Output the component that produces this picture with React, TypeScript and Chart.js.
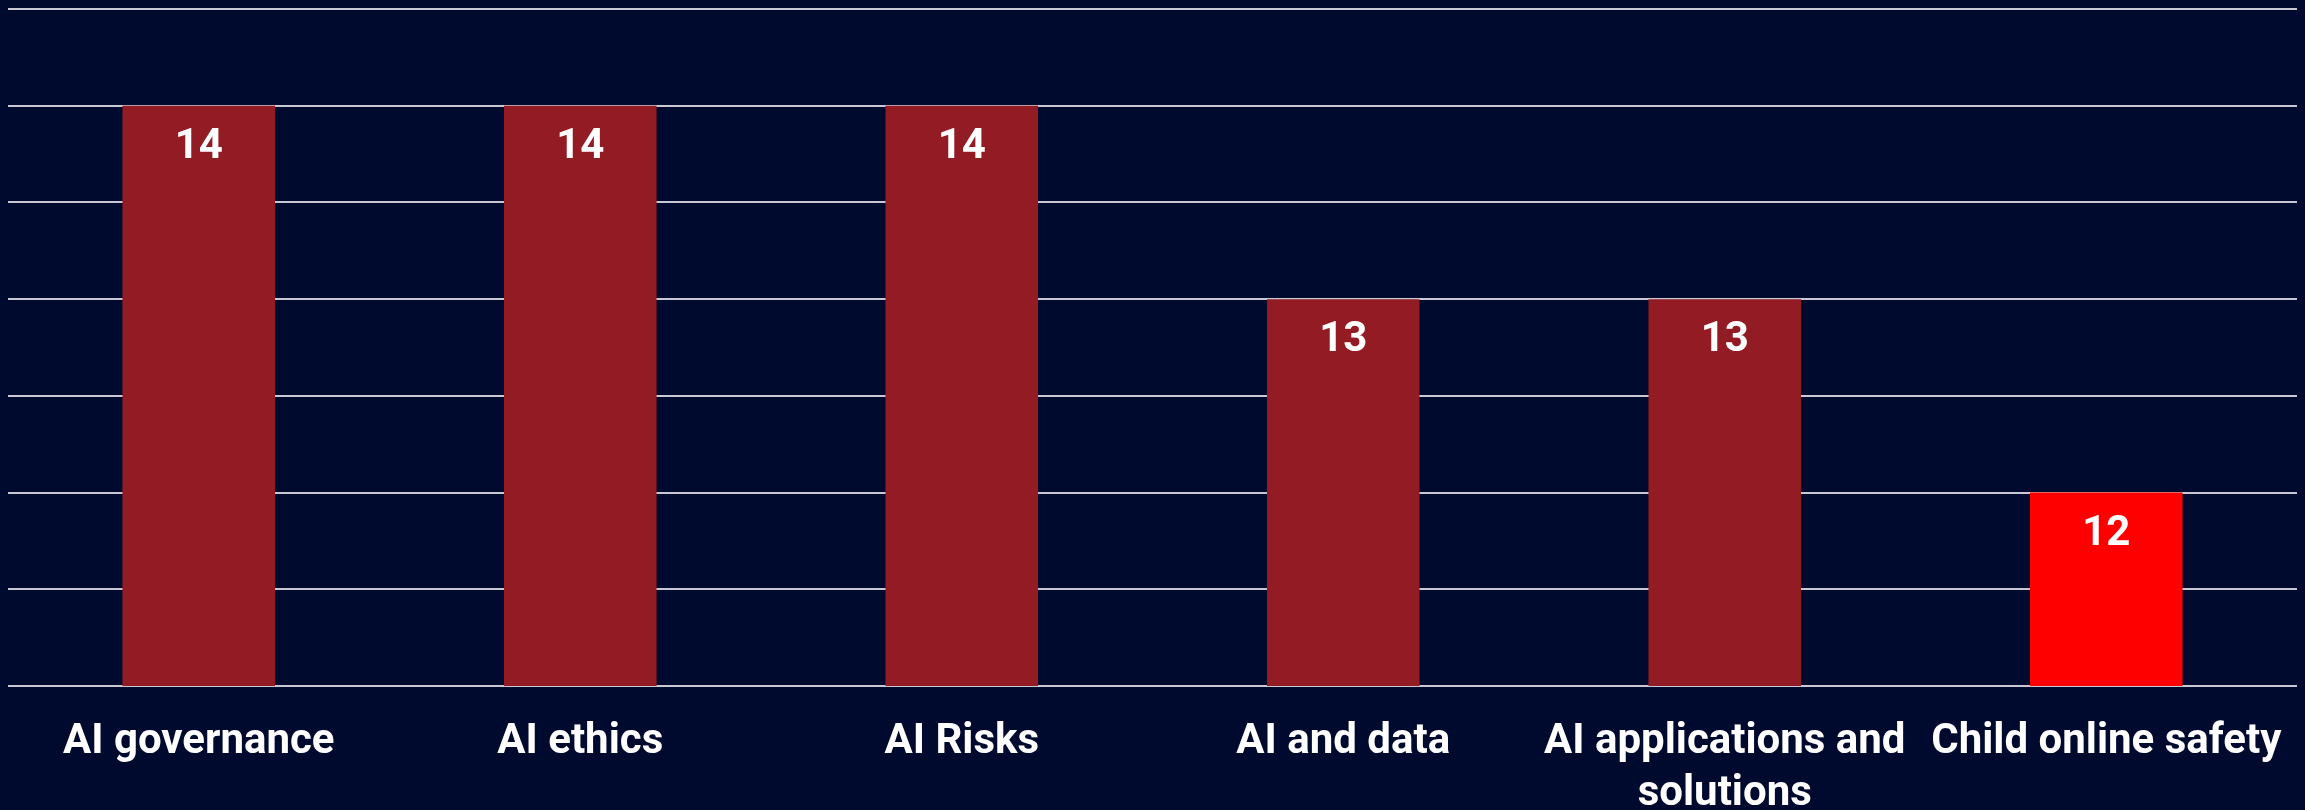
import React, { useEffect, useRef } from "react";
import { Chart, registerables } from "chart.js";

Chart.register(...registerables);

const categories: (string | string[])[] = [
  "AI governance",
  "AI ethics",
  "AI Risks",
  "AI and data",
  ["AI applications and", "solutions"],
  "Child online safety",
];
const counts = [14, 14, 14, 13, 13, 12];
const barColors = ["#921b24", "#921b24", "#921b24", "#921b24", "#921b24", "#ff0000"];

const BG = "#000a2e";
const FONT = "Roboto, 'Noto Sans', sans-serif";

const labelsPlugin = {
  id: "customLabels",
  afterDatasetsDraw(chart: any) {
    const ctx = chart.ctx;
    const meta = chart.getDatasetMeta(0);
    ctx.save();
    ctx.fillStyle = "#ffffff";
    ctx.textAlign = "center";
    ctx.textBaseline = "alphabetic";
    ctx.font = `bold 42px ${FONT}`;
    meta.data.forEach((bar: any, i: number) => {
      ctx.fillText(String(counts[i]), bar.x, bar.y + 52);
    });
    const xScale = chart.scales.x;
    const bottom = chart.chartArea.bottom;
    const maxW = xScale.width / categories.length - 20;
    categories.forEach((c, i) => {
      const x = xScale.getPixelForValue(i);
      const lines = Array.isArray(c) ? c : [c];
      lines.forEach((ln, j) => {
        ctx.fillText(ln, x, bottom + 67 + j * 52, maxW);
      });
    });
    ctx.restore();
  },
};

export default function App() {
  const ref = useRef<HTMLCanvasElement>(null);
  useEffect(() => {
    document.body.style.background = BG;
    const chart = new Chart(ref.current!, {
      type: "bar",
      data: {
        labels: categories,
        datasets: [
          {
            data: counts,
            backgroundColor: barColors,
            borderWidth: 0,
            barPercentage: 0.4,
            categoryPercentage: 1,
          },
        ],
      },
      options: {
        animation: false,
        responsive: true,
        maintainAspectRatio: false,
        layout: { padding: { top: 1, bottom: 124, left: 0, right: 0 } },
        plugins: { legend: { display: false }, tooltip: { enabled: false } },
        scales: {
          x: { display: false },
          y: {
            min: 11,
            max: 14.5,
            ticks: { display: false, stepSize: 0.5 },
            grid: { color: "#c8c9d2", lineWidth: 2, drawTicks: false },
            border: { display: false },
          },
        },
      },
      plugins: [labelsPlugin],
    });
    return () => chart.destroy();
  }, []);
  return (
    <div style={{ width: 2289, height: 802, position: "relative" }}>
      <canvas ref={ref} />
    </div>
  );
}
